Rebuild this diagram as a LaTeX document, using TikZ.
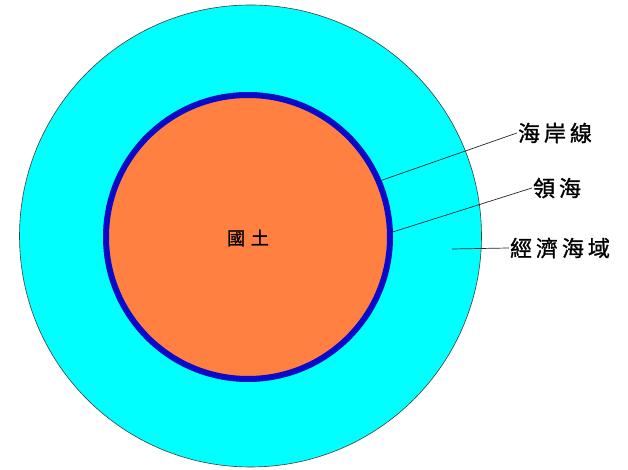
\documentclass[tikz,border=0pt]{standalone}
\usepackage{fontspec}
\usepackage{tikz}
\usetikzlibrary{positioning}
\newfontfamily\cjk[LetterSpace=18,FakeBold=1.2]{Noto Sans CJK TC}
\newfontfamily\cjkwide[LetterSpace=32,FakeBold=1.2]{Noto Sans CJK TC}
\definecolor{seacyan}{RGB}{0,255,255}
\definecolor{landorange}{RGB}{255,128,64}
\definecolor{coastblue}{RGB}{10,10,200}

\begin{document}
\begin{tikzpicture}[x=1pt,y=1pt,node distance=55pt,on grid]
      \tikzset{zone/.style={draw,circle,inner sep=0pt}}
      \tikzset{tag/.style={inner sep=1pt,font=\cjk\fontsize{22}{26}\selectfont}}
      \useasboundingbox (0,0) rectangle (628,470);

      \node[zone,fill=seacyan,draw=black!75,line width=0.6pt,minimum size=462pt] (eez) at (250.5,234) {};
      \node[zone,fill=landorange,draw=coastblue,line width=6pt,minimum size=284pt] (coast) at (248,233) {};
      \node[font=\cjkwide\fontsize{18}{22}\selectfont] (land) at (248,232) {國土};

      \node[tag] (coastlbl) at (555,337) {海岸線};
      \node[tag] (tslbl) [below right = 55pt and 2pt of coastlbl] {領海};
      \node[tag] (eezlbl) [below right = 60pt and 3pt of tslbl] {經濟海域};
      \coordinate (eezpt) at (452,221);

      \path[draw=black!85,line width=0.7pt]
      (coastlbl.west) edge (coast.23)
      (tslbl.west) edge (coast.2)
      (eezlbl.west) edge (eezpt)
      ;
    \end{tikzpicture}
\end{document}
